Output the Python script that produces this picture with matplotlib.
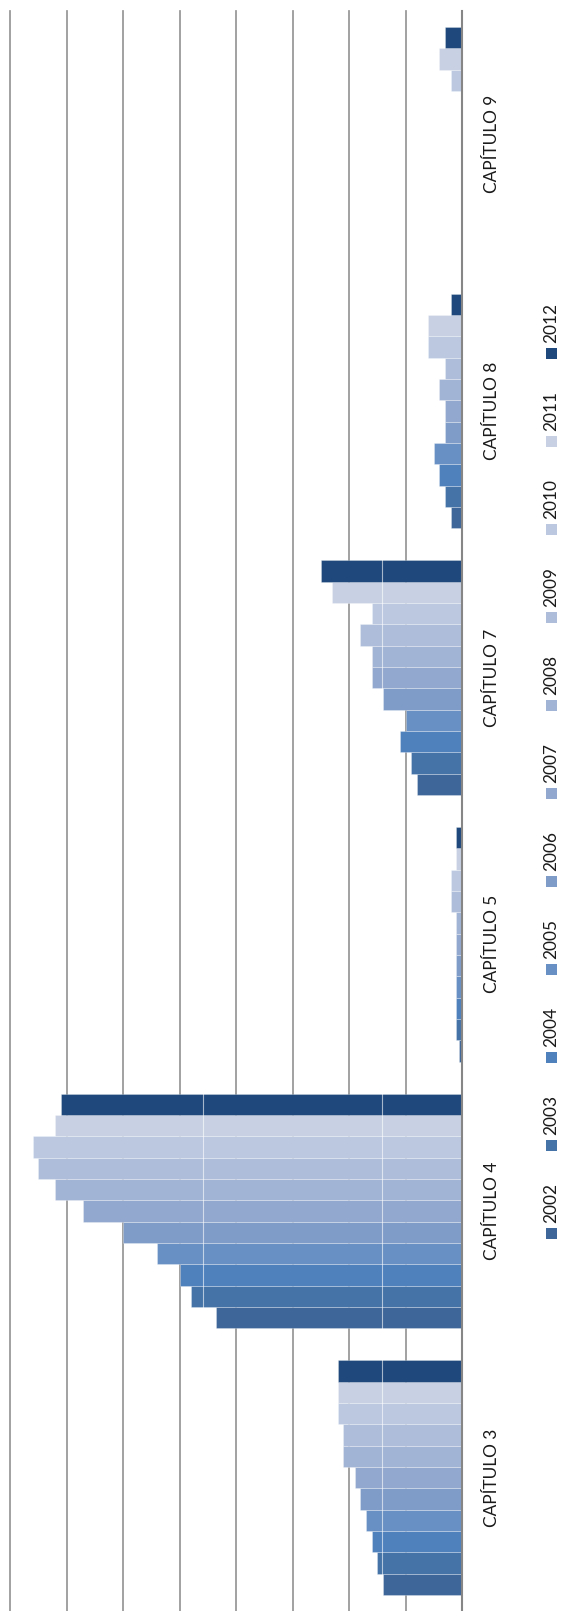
import matplotlib
matplotlib.use('Agg')
import matplotlib.pyplot as plt
from matplotlib.patches import Rectangle
import matplotlib.transforms as mtransforms

plt.rcParams['font.family'] = ['Lato', 'DejaVu Sans']

categories = ['CAPÍTULO 3', 'CAPÍTULO 4', 'CAPÍTULO 5', 'CAPÍTULO 7', 'CAPÍTULO 8', 'CAPÍTULO 9']
years = ['2002', '2003', '2004', '2005', '2006', '2007', '2008', '2009', '2010', '2011', '2012']

# values per category, ordered 2002..2012
cap3 = [14, 15, 16, 17, 18, 19, 21, 21, 22, 22, 22]
cap4 = [43.5, 48, 50, 54, 60, 67, 72, 75, 76, 72, 71]
cap5 = [0.5, 1, 1, 1, 1, 1, 1, 2, 2, 1, 1]
cap7 = [8, 9, 11, 10, 14, 16, 16, 18, 16, 23, 25]
cap8 = [2, 3, 4, 5, 3, 3, 4, 3, 6, 6, 2]
cap9 = [0, 0, 0, 0, 0, 0, 0, 0, 2, 4, 3]
by_category = [cap3, cap4, cap5, cap7, cap8, cap9]

colors = ['#3E6699', '#4573A8', '#4F81BD', '#6990C4', '#7F9CC9', '#93A8CF',
          '#A1B4D5', '#AEBEDA', '#BBC8E0', '#C7D1E3', '#1F497D']

W, H = 563, 1611
fig = plt.figure(figsize=(W / 100, H / 100), dpi=100)
ax = fig.add_axes([10 / W, 0, 452 / W, 1600 / H])

n = len(years)
bh = 1 / 12.5
for j, yr in enumerate(years):
    vals = [c[j] for c in by_category]
    ys = [i + (j - (n - 1) / 2) * bh for i in range(len(categories))]
    ax.barh(ys, vals, height=bh, color=colors[j], edgecolor=(1, 1, 1, 0.3),
            linewidth=0.6, zorder=2)

ax.set_xlim(80, 0)
ax.set_ylim(-0.5, len(categories) - 0.5)
ax.set_xticks(range(0, 81, 10))
ax.set_yticks([])
ax.tick_params(axis='x', length=0, labelbottom=False)
ax.grid(axis='x', color='#969696', linewidth=1.25)
for gl in ax.xaxis.get_gridlines():
    gl.set_clip_on(False)
ax.set_axisbelow(True)
for s in ['top', 'bottom', 'left']:
    ax.spines[s].set_visible(False)
ax.spines['right'].set_color('#868686')
ax.spines['right'].set_linewidth(1.5)
ax.spines['right'].set_zorder(3)

# faint white seams across the bars
for xv in (14.2, 45.8):
    ax.axvline(xv, color='white', alpha=0.6, linewidth=0.8, zorder=2.5)

# category labels (rotated)
trans = mtransforms.blended_transform_factory(fig.transFigure, ax.transData)
for i, cat in enumerate(categories):
    ax.text(492 / W, i, cat, transform=trans, rotation=90, ha='center', va='center',
            fontsize=12.4, color='#1a1a1a', clip_on=False)

# manual rotated legend
for j, yr in enumerate(years):
    top_px = 1228 - 88 * j
    fig.add_artist(Rectangle((546 / W, 1 - (top_px + 11) / H), 11 / W, 11 / H,
                             transform=fig.transFigure, facecolor=colors[j],
                             edgecolor='none'))
    fig.text(551.5 / W, 1 - (top_px - 5) / H, yr, rotation=90, ha='center',
             va='bottom', fontsize=12.4, color='#1a1a1a')

fig.savefig('out.png', dpi=100)
